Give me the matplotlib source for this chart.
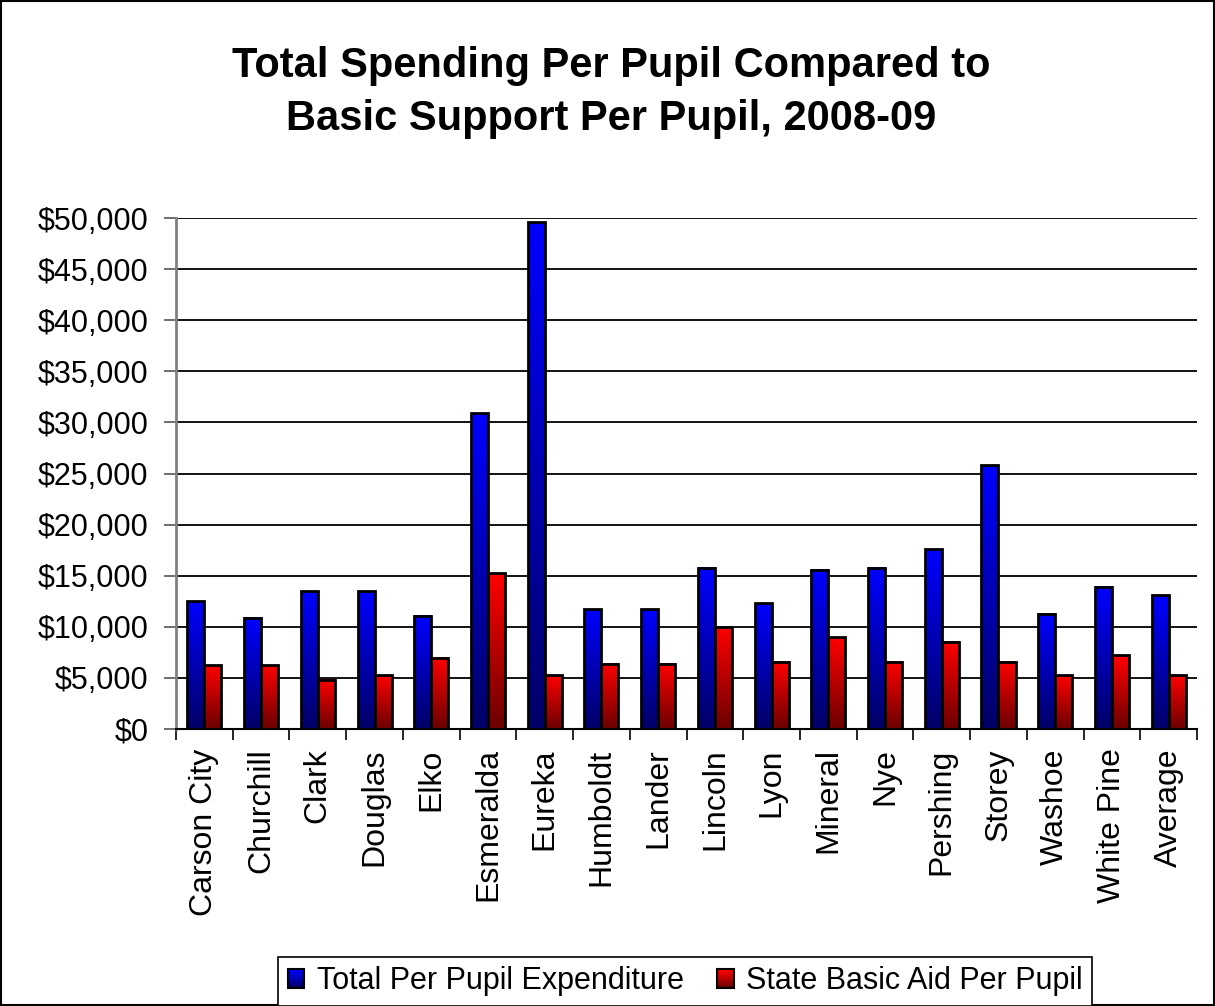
import numpy as np
import matplotlib
matplotlib.use('Agg')
import matplotlib.pyplot as plt
from matplotlib.colors import LinearSegmentedColormap
from matplotlib.patches import Rectangle
from matplotlib.legend_handler import HandlerBase
from matplotlib.ticker import FuncFormatter

# data
districts = ['Carson City', 'Churchill', 'Clark', 'Douglas', 'Elko', 'Esmeralda',
             'Eureka', 'Humboldt', 'Lander', 'Lincoln', 'Lyon', 'Mineral', 'Nye',
             'Pershing', 'Storey', 'Washoe', 'White Pine', 'Average']
total_per_pupil = [12500, 10900, 13500, 13500, 11100, 30900, 49600, 11700, 11700,
                   15800, 12300, 15600, 15800, 17600, 25800, 11300, 13900, 13100]
basic_aid_per_pupil = [6250, 6250, 4800, 5250, 7000, 15250, 5250, 6400, 6400,
                       9950, 6600, 9000, 6600, 8550, 6600, 5250, 7200, 5250]
series_labels = ['Total Per Pupil Expenditure', 'State Basic Aid Per Pupil']

plt.rcParams['font.family'] = ['Liberation Sans', 'DejaVu Sans']

fig = plt.figure(figsize=(12.15, 10.06), dpi=100)
ax = fig.add_axes([0.1449, 0.2753, 0.8403, 0.508])

blue_cmap = LinearSegmentedColormap.from_list('b', [(0, 0, 0.40), (0, 0, 1.0)])
red_cmap = LinearSegmentedColormap.from_list('r', [(0.42, 0, 0), (1.0, 0, 0)])
grad = np.linspace(0, 1, 256).reshape(-1, 1)

x = np.arange(len(districts))
w = 0.3


def gradient_bars(xpos, heights, cmap):
    for xc, h in zip(xpos, heights):
        ax.imshow(grad, cmap=cmap, origin='lower', aspect='auto',
                  extent=(xc - w / 2, xc + w / 2, 0, h), zorder=3)
        ax.add_patch(Rectangle((xc - w / 2, 0), w, h, fill=False,
                               edgecolor='black', lw=2, zorder=4))


gradient_bars(x - w / 2, total_per_pupil, blue_cmap)
gradient_bars(x + w / 2, basic_aid_per_pupil, red_cmap)

ax.set_xlim(-0.5, len(districts) - 0.5)
ax.set_ylim(0, 50000)
ax.set_yticks(np.arange(0, 50001, 5000))
ax.yaxis.set_major_formatter(FuncFormatter(lambda v, p: '${:,.0f}'.format(v)))
ax.grid(axis='y', color='black', lw=1.3, zorder=1)

ax.set_xticks(x)
ax.set_xticklabels(districts, rotation=90, fontsize=23)
ax.set_xticks(np.arange(-0.5, len(districts)), minor=True)
ax.tick_params(axis='x', which='major', length=0, pad=14)
ax.tick_params(axis='x', which='minor', length=8, width=1.2, color='black')
ax.tick_params(axis='y', labelsize=22, length=9, width=1.2, color='#555555', pad=11)

for s in ['top', 'right']:
    ax.spines[s].set_visible(False)
ax.spines['left'].set_color('gray')
ax.spines['left'].set_linewidth(2)
ax.spines['bottom'].set_color('black')
ax.spines['bottom'].set_linewidth(1.5)

fig.text(0.503, 0.908, 'Total Spending Per Pupil Compared to\nBasic Support Per Pupil, 2008-09',
         ha='center', va='center', fontsize=30, fontweight='bold', linespacing=1.42)


# legend swatch with the same vertical gradient as the bars
class GradientHandler(HandlerBase):
    def __init__(self, cmap):
        super().__init__()
        self.cmap = cmap

    def create_artists(self, legend, orig_handle, xdescent, ydescent, width, height,
                       fontsize, trans):
        n = 20
        arts = []
        for i in range(n):
            arts.append(Rectangle((-xdescent, -ydescent + height * i / n), width, height / n + 0.2,
                                  facecolor=self.cmap(i / (n - 1)), edgecolor='none',
                                  transform=trans))
        arts.append(Rectangle((-xdescent, -ydescent), width, height, fill=False,
                              edgecolor='black', lw=1.5, transform=trans))
        return arts


h_blue = Rectangle((0, 0), 1, 1)
h_red = Rectangle((0, 0), 1, 1)
leg = fig.legend([h_blue, h_red], series_labels, loc='center', bbox_to_anchor=(0.564, 0.0245),
                 ncol=2, fontsize=22, fancybox=False, edgecolor='black', framealpha=1,
                 handlelength=0.55, handleheight=0.6, handletextpad=0.4, columnspacing=1.1,
                 borderpad=0.3, borderaxespad=0,
                 handler_map={h_blue: GradientHandler(blue_cmap), h_red: GradientHandler(red_cmap)})
leg.get_frame().set_linewidth(1.2)

fig.patches.append(Rectangle((0.001, 0.001), 0.998, 0.998, transform=fig.transFigure,
                             fill=False, edgecolor='black', lw=1.5))

fig.savefig('out.png', dpi=100)
